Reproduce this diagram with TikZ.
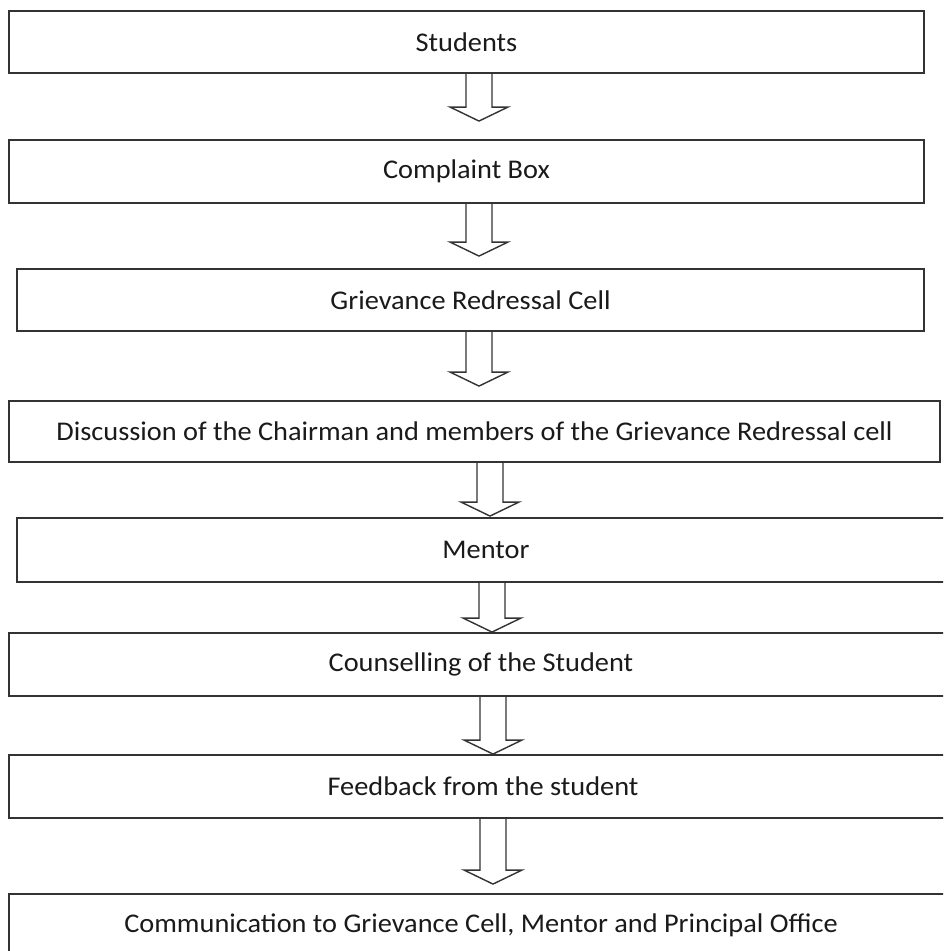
\documentclass[tikz,border=0pt]{standalone}
\usepackage{fontspec}
\setmainfont{Carlito}[FakeStretch=1.05]
\usepackage{tikz}
\usetikzlibrary{calc}
\definecolor{lineColor}{HTML}{333333}
\definecolor{textColor}{HTML}{1A1A1A}

% block arrow from one box down to the next: from, to, centre x, gap above target
\newcommand{\flowarrow}[4]{%
  \draw[blockarrow] let \p1=(#1.south), \p2=(#2.north) in
    (#3pt-13pt,\y1) -- (#3pt-13pt,\y2+#4pt+14pt) -- (#3pt-29pt,\y2+#4pt+14pt)
    -- (#3pt,\y2+#4pt) -- (#3pt+29pt,\y2+#4pt+14pt) -- (#3pt+13pt,\y2+#4pt+14pt)
    -- (#3pt+13pt,\y1);
}

\tikzset{
  stepbox/.style={draw=lineColor, line width=1.9pt, rectangle, inner sep=0pt,
    text=textColor, font=\fontsize{27}{31}\selectfont},
  blockarrow/.style={draw=lineColor, line width=1.4pt, line join=miter}
}

\begin{document}
\begin{tikzpicture}[x=1pt, y=1pt]
    \useasboundingbox (0,0) rectangle (943,-951);
    \clip (0,0) rectangle (943,-951);
    \fill[white] (0,0) rectangle (943,-951);

    \node[stepbox, minimum width=915pt, minimum height=62pt] (students) at (466.5,-42) {Students};
    \node[stepbox, minimum width=915pt, minimum height=63pt] (complaint) at (466.5,-171.5) {Complaint Box};
    \node[stepbox, minimum width=907pt, minimum height=62pt] (cell) at (470.5,-300) {Grievance Redressal Cell};
    \node[stepbox, minimum width=931pt, minimum height=61pt] (discussion) at (474.5,-431.5) {Discussion of the Chairman and members of the Grievance Redressal cell};
    \node[stepbox, minimum width=938pt, minimum height=64pt] (mentor) at (486,-550) {Mentor};
    \node[stepbox, minimum width=944pt, minimum height=63pt] (counselling) at (481,-664.5) {Counselling of the Student};
    \node[stepbox, minimum width=948pt, minimum height=63pt] (feedback) at (483,-786.5) {Feedback from the student};
    \node[stepbox, minimum width=944pt, minimum height=63pt] (communication) at (481,-925.5) {Communication to Grievance Cell, Mentor and Principal Office};

    \flowarrow{students}{complaint}{479}{18}
    \flowarrow{complaint}{cell}{479}{12}
    \flowarrow{cell}{discussion}{479}{14}
    \flowarrow{discussion}{mentor}{490}{1}
    \flowarrow{mentor}{counselling}{492}{0}
    \flowarrow{counselling}{feedback}{493}{0}
    \flowarrow{feedback}{communication}{493}{9}
\end{tikzpicture}
\end{document}
